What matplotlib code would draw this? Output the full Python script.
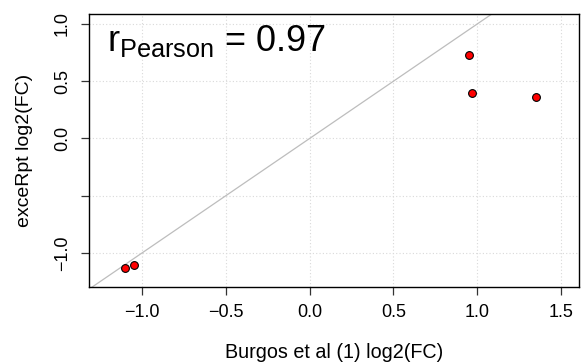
import matplotlib
matplotlib.use("Agg")
import matplotlib.pyplot as plt

plt.rcParams['font.family'] = ['Liberation Sans', 'DejaVu Sans']
plt.rcParams['mathtext.fontset'] = 'custom'
plt.rcParams['mathtext.rm'] = 'Liberation Sans'
plt.rcParams['mathtext.it'] = 'Liberation Sans'

burgos_fc = [-1.10, -1.048, 0.948, 0.968, 1.35]
excerpt_fc = [-1.131, -1.105, 0.732, 0.395, 0.366]
x_ticks = [-1.0, -0.5, 0.0, 0.5, 1.0, 1.5]
x_ticklabels = ['\u22121.0', '\u22120.5', '0.0', '0.5', '1.0', '1.5']
y_ticks = [-1.0, -0.5, 0.0, 0.5, 1.0]
y_ticklabels = ['\u22121.0', '', '0.0', '0.5', '1.0']
r_label = r'r$_{\mathrm{Pearson}}$ = 0.97'

fig = plt.figure(figsize=(5.81, 3.63), dpi=100)
ax = fig.add_axes([89/581, 1-287/363, 490/581, 273/363])
ax.set_xlim(-1.316, 1.607)
ax.set_ylim(-1.297, 1.087)

for t in x_ticks:
    ax.axvline(t, color='#d9d9d9', lw=0.8, ls=(0, (1, 2)), zorder=0)
for t in y_ticks:
    ax.axhline(t, color='#d9d9d9', lw=0.8, ls=(0, (1, 2)), zorder=0)

ax.axline((0, 0), slope=1, color='#bdbdbd', lw=0.9, zorder=1)
ax.plot(burgos_fc, excerpt_fc, 'o', ms=5.6, mfc='#ff0000', mec='black', mew=0.8, zorder=3)

ax.set_xticks(x_ticks)
ax.set_xticklabels(x_ticklabels)
ax.set_yticks(y_ticks)
ax.set_yticklabels(y_ticklabels, rotation=90, va='center')
ax.tick_params(axis='both', length=6, width=0.9, labelsize=13, color='#333333')
ax.tick_params(axis='x', pad=6)
ax.tick_params(axis='y', pad=7)
for s in ax.spines.values():
    s.set_linewidth(1.0)

ax.set_xlabel('Burgos et al (1) log2(FC)', fontsize=14.2, labelpad=16)
ax.set_ylabel('exceRpt log2(FC)', fontsize=14, labelpad=15)

ax.text(0.037, 0.864, r_label, transform=ax.transAxes, fontsize=26,
        va='baseline', ha='left')

fig.savefig('out.png', dpi=100)
